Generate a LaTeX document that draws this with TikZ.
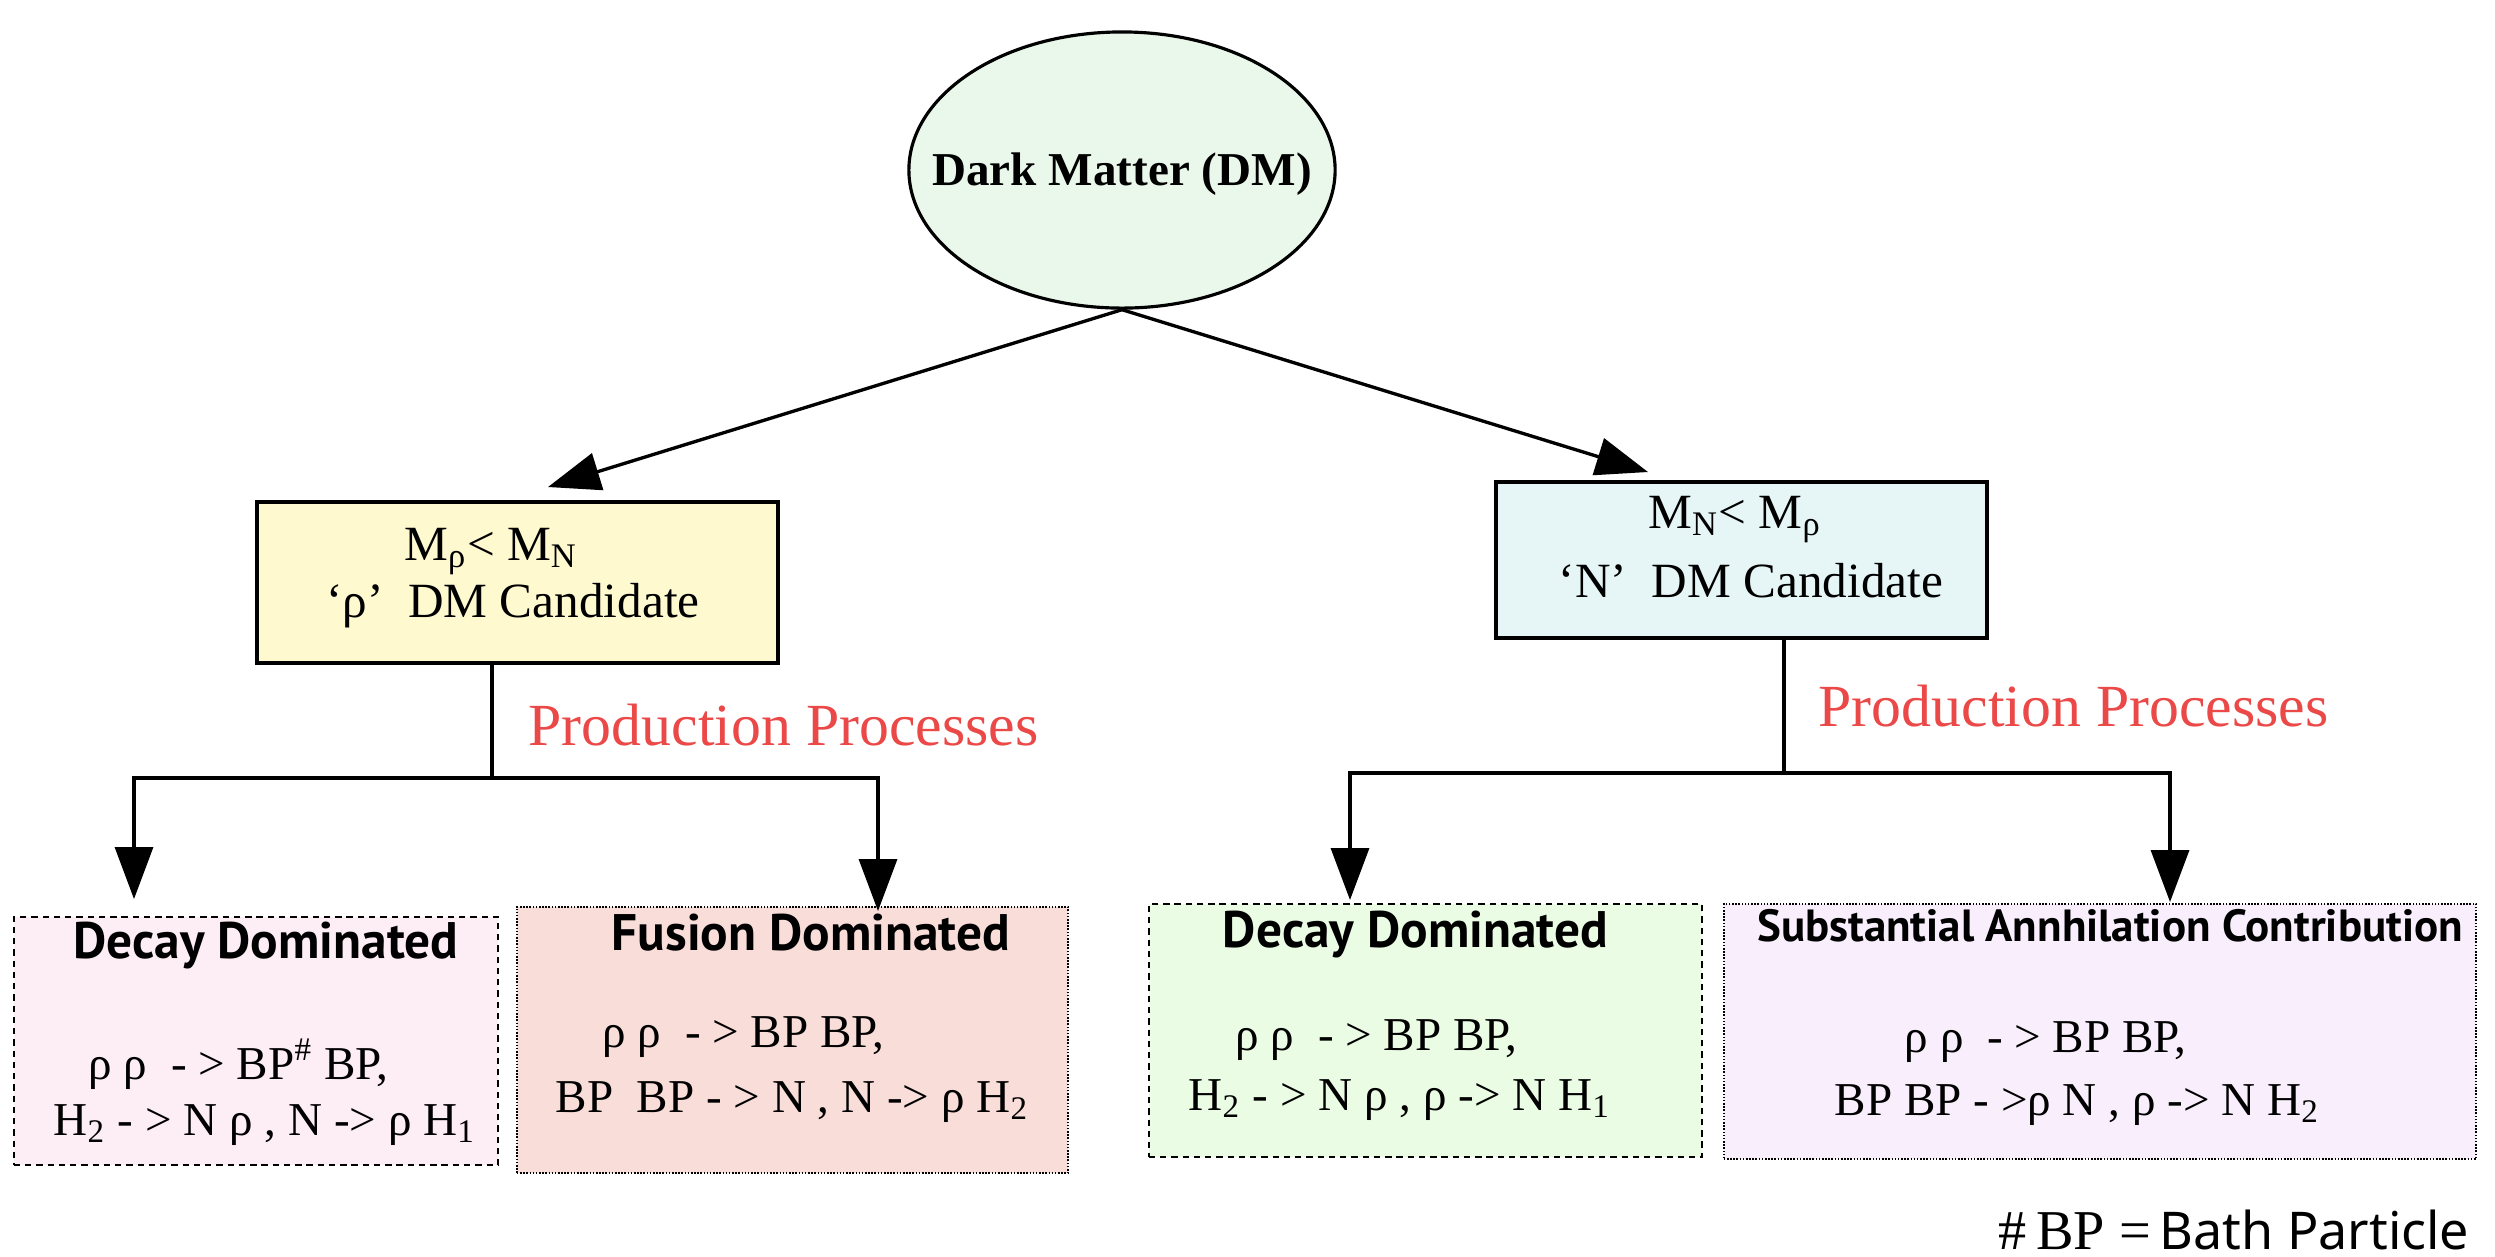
\documentclass[tikz,border=0pt]{standalone}
\usepackage{fontspec}
\setmainfont{Liberation Serif}
\newfontfamily\headsans{PT Sans}
\newfontfamily\notesans{Noto Sans}
\usetikzlibrary{arrows.meta,shapes.geometric,positioning}

\definecolor{dmgreen}{RGB}{234,248,236}
\definecolor{rhoyellow}{RGB}{254,249,207}
\definecolor{ncyan}{RGB}{230,246,246}
\definecolor{decaypink}{RGB}{253,237,245}
\definecolor{fusionrose}{RGB}{249,221,217}
\definecolor{decaygreen}{RGB}{234,252,228}
\definecolor{annlilac}{RGB}{248,238,252}
\definecolor{procred}{RGB}{235,72,72}

\begin{document}
\begin{tikzpicture}[x=0.01cm, y=-0.01cm, line width=0.95pt,
   tip/.style={-{Triangle[length=0.52cm,width=0.38cm]}},
   candbox/.style={draw, rectangle, line width=1.15pt},
   procbox/.style={draw, rectangle, line width=0.6pt},
   dashbox/.style={procbox, dash pattern=on 1.8pt off 1.4pt},
   dotbox/.style={procbox, line width=0.5pt, dash pattern=on 0.45pt off 0.45pt},
   candtext/.style={anchor=base, inner sep=0pt, font=\fontsize{14}{17}\selectfont},
   proctext/.style={anchor=base west, inner sep=0pt, font=\fontsize{13.4}{16}\selectfont},
   headtext/.style={anchor=base, inner sep=0pt, font=\headsans\bfseries\fontsize{14.6}{17}\selectfont},
   prodtext/.style={anchor=base west, inner sep=0pt, text=procred, font=\fontsize{17}{20}\selectfont}]
 \useasboundingbox (0,0) rectangle (2495,1256);

 % root
 \node (dm) [ellipse, draw, fill=dmgreen, line width=0.9pt, minimum width=4.26cm,
   minimum height=2.76cm, inner sep=0pt] at (1122,170) {};
 \node (dmtext) [font=\bfseries\fontsize{13.4}{16}\selectfont, yshift=-0.04cm] at (dm) {Dark Matter (DM)};

 % candidates
 \node (rhobox) [candbox, fill=rhoyellow, minimum width=5.21cm, minimum height=1.61cm] at (517.5,582.5) {};
 \node (rhomass) [candtext] at (491,560) {M\textsubscript{ρ}< M\textsubscript{N}};
 \node (rhocand) [candtext] at (513,617) {‘ρ’\ \ DM Candidate};
 \node (nbox) [candbox, fill=ncyan, minimum width=4.91cm, minimum height=1.56cm] at (1741.5,560) {};
 \node (nmass) [candtext] at (1735,528) {M\textsubscript{N}< M\textsubscript{ρ}};
 \node (ncand) [candtext] at (1751,597) {‘N’\ \ DM Candidate};

 \coordinate (rhotip) at (548,487);
 \coordinate (ntip) at (1648,472);
 \draw [tip] (dm.south) -- (rhotip);
 \draw [tip] (dm.south) -- (ntip);

 \node (rhoprod) [prodtext] at (527,745) {Production Processes};
 \node (nprod) [prodtext] at (1817,726) {Production Processes};

 % processes
 \node (ldecay) [dashbox, fill=decaypink, minimum width=4.84cm, minimum height=2.48cm] at (256,1041) {};
 \node (ldecayhead) [headtext] at (266,958) {Decay Dominated};
 \node (ldecayone) [proctext] at (87,1079) {ρ ρ\ \ - > BP\textsuperscript{\#} BP,};
 \node (ldecaytwo) [proctext] at (52,1135) {H\textsubscript{2} - > N ρ , N -> ρ H\textsubscript{1}};

 \node (fusion) [dotbox, fill=fusionrose, minimum width=5.51cm, minimum height=2.66cm] at (792.5,1040) {};
 \node (fusionhead) [headtext] at (811,950) {Fusion Dominated};
 \node (fusionone) [proctext] at (601,1047) {ρ ρ\ \ - > BP BP,};
 \node (fusiontwo) [proctext] at (554,1112) {BP\ \ BP - > N , N -> ρ H\textsubscript{2}};

 \node (rdecay) [dashbox, fill=decaygreen, minimum width=5.53cm, minimum height=2.53cm] at (1425.5,1030.5) {};
 \node (rdecayhead) [headtext] at (1415.5,947) {Decay Dominated};
 \node (rdecayone) [proctext] at (1234,1050) {ρ ρ\ \ - > BP BP,};
 \node (rdecaytwo) [proctext] at (1187,1110) {H\textsubscript{2} - > N ρ , ρ -> N H\textsubscript{1}};

 \node (ann) [dotbox, fill=annlilac, minimum width=7.52cm, minimum height=2.55cm] at (2100,1031.5) {};
 \node (annhead) [headtext, font=\headsans\bfseries\fontsize{12.8}{15}\selectfont] at (2110,941) {Substantial Annhilation Contribution};
 \node (annone) [proctext] at (1903,1052) {ρ ρ\ \ - > BP BP,};
 \node (anntwo) [proctext] at (1833,1115) {BP BP - >ρ N , ρ -> N H\textsubscript{2}};

 % branches
 \coordinate (rhojoin) at (492,778);
 \coordinate (rholeft) at (134,778);
 \coordinate (rhoright) at (878,778);
 \coordinate (ldecaytip) at (134,899);
 \coordinate (fusiontip) at (878,911);
 \draw (rhobox.south -| rhojoin) -- (rhojoin);
 \draw [tip] (rhojoin) -- (rholeft) -- (ldecaytip);
 \draw [tip] (rhojoin) -- (rhoright) -- (fusiontip);

 \coordinate (njoin) at (1784,773);
 \coordinate (nleft) at (1350,773);
 \coordinate (nright) at (2170,773);
 \coordinate (rdecaytip) at (1350,900);
 \coordinate (anntip) at (2170,902);
 \draw (nbox.south -| njoin) -- (njoin);
 \draw [tip] (njoin) -- (nleft) -- (rdecaytip);
 \draw [tip] (njoin) -- (nright) -- (anntip);

 \node (bpnote) [anchor=base east, inner sep=0pt] at (2471,1249) {{\fontsize{16}{19}\selectfont\#\,BP =}
   {\notesans\fontsize{14.8}{18}\selectfont Bath Particle}};
\end{tikzpicture}
\end{document}
